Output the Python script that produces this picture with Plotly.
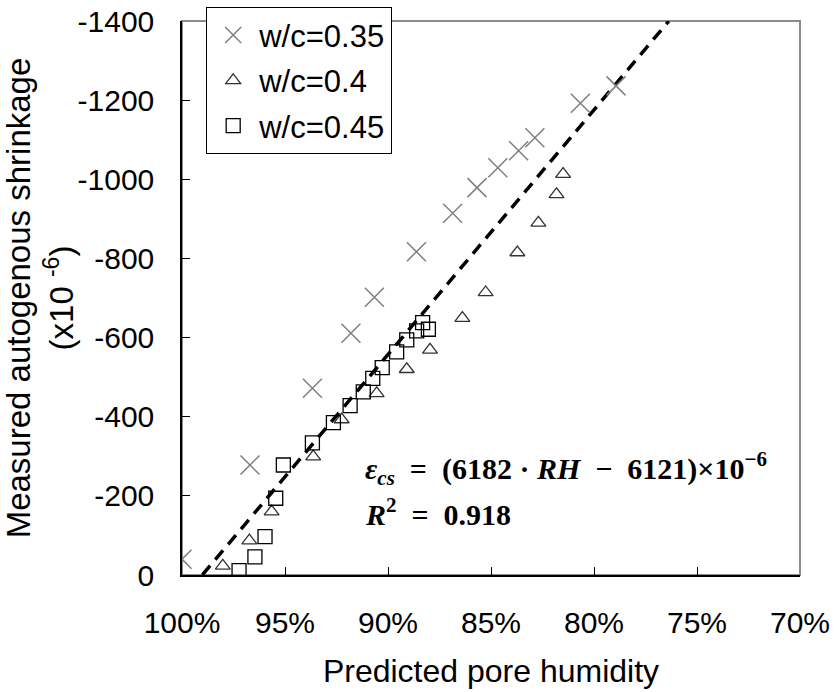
import plotly.graph_objects as go

# ---- data ----
rh_035 = [1.000, 0.967, 0.9367, 0.918, 0.9066, 0.8862, 0.8686, 0.8568, 0.8467, 0.8366, 0.8287, 0.8066, 0.7893]
sh_035 = [-40, -278, -472, -611, -702, -817, -914, -979, -1029, -1072, -1105, -1192, -1236]

rh_040 = [0.9802, 0.9673, 0.9565, 0.9363, 0.9225, 0.9055, 0.8909, 0.8796, 0.8639, 0.8526, 0.8372, 0.8270, 0.8182, 0.8150]
sh_040 = [-23, -87, -160, -299, -393, -459, -520, -569, -649, -714, -815, -890, -962, -1013]

rh_045 = [0.9723, 0.9646, 0.9597, 0.9545, 0.9508, 0.9367, 0.9265, 0.9184, 0.9120, 0.9074, 0.9028, 0.8958, 0.8909, 0.8861, 0.8804, 0.8832]
sh_045 = [-11, -46, -97, -194, -278, -334, -385, -428, -463, -497, -524, -564, -594, -617, -621, -638]

fit_slope = 6182
fit_intercept = -6121
fit_rh = [0.9901, 0.7637]

x_tickvals = [1.00, 0.95, 0.90, 0.85, 0.80, 0.75, 0.70]
x_ticktext = ["100%", "95%", "90%", "85%", "80%", "75%", "70%"]
y_tickvals = [0, -200, -400, -600, -800, -1000, -1200, -1400]
y_ticktext = ["0", "-200", "-400", "-600", "-800", "-1000", "-1200", "-1400"]

FONT = "Arial, 'Liberation Sans', sans-serif"
SERIF = "'Liberation Serif', 'Times New Roman', serif"

fig = go.Figure()

fig.add_trace(go.Scatter(
    x=fit_rh, y=[fit_slope * r + fit_intercept for r in fit_rh],
    mode="lines", line=dict(color="black", width=3.5, dash="12px,8px"),
    showlegend=False, hoverinfo="skip"))

fig.add_trace(go.Scatter(
    x=rh_035, y=sh_035, mode="markers", name="w/c=0.35", legendgroup="a",
    marker=dict(symbol="x-thin-open", size=19, color="#7f7f7f",
                line=dict(color="#7f7f7f", width=1.5))))
fig.add_trace(go.Scatter(
    x=rh_040, y=sh_040, mode="markers", name="w/c=0.4", legendgroup="b",
    marker=dict(symbol="triangle-up-open", size=13, color="#333333",
                line=dict(color="#333333", width=1.3))))
fig.add_trace(go.Scatter(
    x=rh_045, y=sh_045, mode="markers", name="w/c=0.45", legendgroup="c",
    marker=dict(symbol="square-open", size=14, color="black",
                line=dict(color="black", width=1.3))))

# gray frame (top/right)
fig.add_shape(type="rect", xref="paper", yref="paper", x0=0, y0=0, x1=1, y1=1,
              line=dict(color="#8c8c8c", width=2), layer="below")

fig.add_annotation(
    xref="paper", yref="paper", x=0.293, y=0.193, xanchor="left", yanchor="middle",
    showarrow=False,
    text="<b><i>ε</i><sub><i>cs</i></sub>  =  (6182 · <i>RH</i>  −  6121)×10<sup>−6</sup></b>",
    font=dict(family=SERIF, size=30, color="black"))
fig.add_annotation(
    xref="paper", yref="paper", x=0.293, y=0.114, xanchor="left", yanchor="middle",
    showarrow=False,
    text="<b><i>R</i><sup>2</sup>  =  0.918</b>",
    font=dict(family=SERIF, size=30, color="black"))

fig.update_layout(
    width=835, height=692,
    margin=dict(l=182, r=35, t=21, b=117, autoexpand=False),
    plot_bgcolor="white", paper_bgcolor="white",
    font=dict(family=FONT, size=30, color="black"),
    showlegend=True,
    legend=dict(x=0.0388, y=1.025, xanchor="left", yanchor="top",
                bordercolor="black", borderwidth=1.2, bgcolor="white",
                font=dict(family=FONT, size=31, color="black"),
                tracegroupgap=2, itemwidth=42,
                entrywidth=196, entrywidthmode="pixels"),
    xaxis=dict(range=[1.0, 0.70], tickvals=x_tickvals, ticktext=x_ticktext,
               showgrid=False, zeroline=False, showline=True, linecolor="black",
               linewidth=1.5, ticks="inside", ticklen=8, tickcolor="black",
               tickfont=dict(size=30), ticklabelstandoff=20, automargin=False,
               title=dict(text="Predicted pore humidity", font=dict(size=32), standoff=22)),
    yaxis=dict(range=[0, -1400], tickvals=y_tickvals, ticktext=y_ticktext,
               showgrid=False, zeroline=False, showline=True, linecolor="black",
               linewidth=1.5, ticks="inside", ticklen=8, tickcolor="black",
               tickfont=dict(size=30), ticklabelstandoff=20, automargin=False,
               title=dict(text="Measured autogenous shrinkage<br>(x10 <sup>-6</sup>)",
                          font=dict(size=33), standoff=2)),
)

fig.write_html("out.html", config={"displayModeBar": False},
               post_script="document.body.style.margin='0px';")
